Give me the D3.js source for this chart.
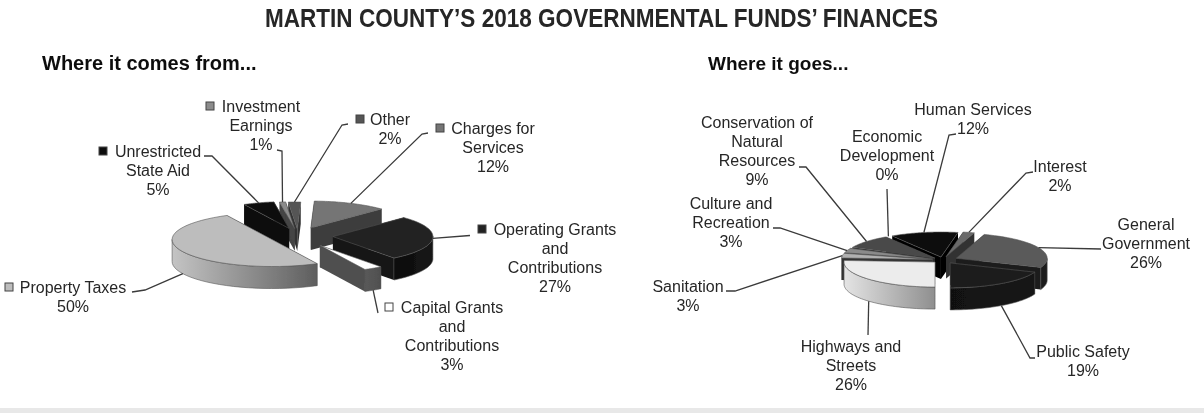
<!DOCTYPE html>
<head>
  <meta charset="UTF-8" />
  <title>Martin County Finances</title>
  <script src="https://cdn.jsdelivr.net/npm/d3@7"></script>
  <style>
    body { margin: 0; background: #fff; font-family: 'Liberation Sans', Arial, sans-serif; overflow: hidden; }
    svg text { fill: #262626; }
  </style>
</head>
<body>
  <div id="chart"></div>
<script>
  // Values
  const sourceNames = ['Charges for Services', 'Operating Grants and Contributions', 'Capital Grants and Contributions', 'Property Taxes', 'Unrestricted State Aid', 'Investment Earnings', 'Other']
  const sourceValues = [12, 27, 3, 50, 5, 1, 2]
  const useNames = ['General Government', 'Public Safety', 'Highways and Streets', 'Sanitation', 'Culture and Recreation', 'Conservation of Natural Resources', 'Economic Development', 'Human Services', 'Interest']
  const useValues = [26, 19, 26, 3, 3, 9, 0, 12, 2]

  const width = 1204
  const height = 413

  // Slice looks: [top, wall near end, wall far end, how far it is pulled out]
  const sourceLooks = [
    ['#757575', '#3c3c3c', '#3c3c3c', 0.32],
    ['#222222', '#0c0c0c', '#161616', 0.35],
    ['#ffffff', '#5a5a5a', '#4f4f4f', 0.41],
    ['#bdbdbd', '#c4c4c4', '#5e5e5e', 0.29],
    ['#111111', '#0a0a0a', '#0a0a0a', 0.29],
    ['#8c8c8c', '#444444', '#444444', 0.27],
    ['#555555', '#333333', '#333333', 0.26]
  ]
  const useLooks = [
    ['#5a5a5a', '#2a2a2a', '#1c1c1c', 0.16],
    ['#1e1e1e', '#111111', '#161616', 0.14],
    ['#ececec', '#e4e4e4', '#8f8f8f', 0.12],
    ['#b0b0b0', '#333333', '#333333', 0.12],
    ['#8a8a8a', '#444444', '#444444', 0.12],
    ['#484848', '#2a2a2a', '#2a2a2a', 0.12],
    ['#777777', '#333333', '#333333', 0.12],
    ['#0b0b0b', '#050505', '#050505', 0.12],
    ['#6a6a6a', '#333333', '#333333', 0.14]
  ]

  // Label layout: centre x, first baseline, optional swatch, bends of the leader line
  const sourceLabels = [
    { lines: ['Charges for', 'Services', '12%'], x: 493, y: 134, swatch: 436, fill: '#757575', elbow: [[422, 134], [428, 133]] },
    { lines: ['Operating Grants', 'and', 'Contributions', '27%'], x: 555, y: 235, swatch: 478, fill: '#222222', elbow: [[470, 235.5]] },
    { lines: ['Capital Grants', 'and', 'Contributions', '3%'], x: 452, y: 313, swatch: 385, fill: '#ffffff', elbow: [[378, 313]] },
    { lines: ['Property Taxes', '50%'], x: 73, y: 293, swatch: 5, fill: '#bdbdbd', elbow: [[145, 290], [132, 292]] },
    { lines: ['Unrestricted', 'State Aid', '5%'], x: 158, y: 157, swatch: 99, fill: '#111111', elbow: [[212, 156], [204, 156]] },
    { lines: ['Investment', 'Earnings', '1%'], x: 261, y: 112, swatch: 206, fill: '#8c8c8c', elbow: [[282, 151], [277, 150]] },
    { lines: ['Other', '2%'], x: 390, y: 125, swatch: 356, fill: '#555555', elbow: [[342, 125], [348, 124]] }
  ]
  const useLabels = [
    { lines: ['General', 'Government', '26%'], x: 1146, y: 230, elbow: [[1101, 249]] },
    { lines: ['Public Safety', '19%'], x: 1083, y: 357, elbow: [[1030, 358], [1035, 358]] },
    { lines: ['Highways and', 'Streets', '26%'], x: 851, y: 352, elbow: [[868, 335]] },
    { lines: ['Sanitation', '3%'], x: 688, y: 292, elbow: [[735, 291], [726, 291]] },
    { lines: ['Culture and', 'Recreation', '3%'], x: 731, y: 209, elbow: [[780, 228], [773, 228]] },
    { lines: ['Conservation of', 'Natural', 'Resources', '9%'], x: 757, y: 128, elbow: [[806, 167], [799, 167]] },
    { lines: ['Economic', 'Development', '0%'], x: 887, y: 142, elbow: [[887, 189]] },
    { lines: ['Human Services', '12%'], x: 973, y: 115, elbow: [[949, 135], [956, 134]] },
    { lines: ['Interest', '2%'], x: 1060, y: 172, elbow: [[1026, 173], [1033, 172]] }
  ]

  const svg = d3.select('#chart').append('svg').attr('width', width).attr('height', height)
  const defs = svg.append('defs')

  // The reference is a soft scan, so the drawing is blurred a touch
  defs.append('filter').attr('id', 'soft').append('feGaussianBlur').attr('stdDeviation', 0.5)
  const page = svg.append('g').attr('filter', 'url(#soft)')

  page.append('rect').attr('y', 408).attr('width', width).attr('height', 5).attr('fill', '#e8e8e8')

  page.append('text')
    .attr('x', 265).attr('y', 27)
    .attr('font-family', "'Liberation Sans Narrow', 'Liberation Sans', sans-serif")
    .attr('font-size', 25).attr('font-weight', 'bold')
    .attr('textLength', 673).attr('lengthAdjust', 'spacingAndGlyphs')
    .text('MARTIN COUNTY\u2019S 2018 GOVERNMENTAL FUNDS\u2019 FINANCES')

  page.append('text').attr('x', 42).attr('y', 70)
    .attr('font-size', 20).attr('font-weight', 'bold').style('fill', '#111').text('Where it comes from...')
  page.append('text').attr('x', 708).attr('y', 70)
    .attr('font-size', 19).attr('font-weight', 'bold').style('fill', '#111').text('Where it goes...')

  // Draw one exploded 3D pie
  function drawPie(id, values, looks, labels, opts) {
    const { cx, cy, rx, ry, depth, start } = opts
    const arcs = d3.pie().sort(null)
      .startAngle(start).endAngle(start + 2 * Math.PI)(values)

    const g = page.append('g')
    const slices = arcs.map((a, i) => {
      const mid = (a.startAngle + a.endAngle) / 2
      const ox = cx + rx * looks[i][3] * Math.sin(mid)
      const oy = cy - ry * looks[i][3] * Math.cos(mid)
      return { a, i, mid, ox, oy }
    })

    const rimPoint = (s, t) => [s.ox + rx * Math.sin(t), s.oy - ry * Math.cos(t)]
    const line = d3.line()

    // back slices first
    slices.slice().sort((p, q) => Math.cos(q.mid) - Math.cos(p.mid)).forEach((s) => {
      if (s.a.value === 0) return
      const look = looks[s.i]
      const ts = d3.range(0, 41).map((k) => s.a.startAngle + (s.a.endAngle - s.a.startAngle) * k / 40)
      const rim = ts.map((t) => rimPoint(s, t))
      const apex = [s.ox, s.oy]

      const gradId = `${id}-wall-${s.i}`
      const grad = defs.append('linearGradient').attr('id', gradId)
        .attr('gradientUnits', 'userSpaceOnUse')
        .attr('x1', d3.min(rim, (d) => d[0])).attr('x2', d3.max(rim, (d) => d[0]))
        .attr('y1', 0).attr('y2', 0)
      grad.append('stop').attr('offset', 0).attr('stop-color', look[1])
      grad.append('stop').attr('offset', 1).attr('stop-color', look[2])

      const drop = (p) => [p[0], p[1] + depth]

      // two cut faces
      ;[rim[0], rim[rim.length - 1]].forEach((p) => {
        g.append('path')
          .attr('d', line([apex, p, drop(p), drop(apex)]) + 'Z')
          .attr('fill', look[2])
      })

      // outer wall, only the part that faces the viewer
      const front = rim.filter((p, k) => Math.cos(ts[k]) <= 0.02)
      if (front.length > 1) {
        g.append('path')
          .attr('d', line(front.concat(front.slice().reverse().map(drop))) + 'Z')
          .attr('fill', `url(#${gradId})`)
          .attr('stroke', '#555').attr('stroke-width', 0.6)
      }

      // top
      g.append('path')
        .attr('d', line([apex].concat(rim)) + 'Z')
        .attr('fill', look[0])
        .attr('stroke', '#555').attr('stroke-width', 0.6)
    })

    // leader lines and labels
    const lead = page.append('g')
    slices.forEach((s) => {
      const lab = labels[s.i]
      const p = rimPoint(s, s.mid)
      const anchor = Math.cos(s.mid) < -0.3 ? [p[0], p[1] + depth] : p
      lead.append('path')
        .attr('d', line([anchor].concat(lab.elbow)))
        .attr('fill', 'none').attr('stroke', '#3a3a3a').attr('stroke-width', 1.3)

      const t = lead.append('text')
        .attr('text-anchor', 'middle').attr('font-size', 16)
      lab.lines.forEach((txt, k) => {
        t.append('tspan').attr('x', lab.x).attr('y', lab.y + k * 19).text(txt)
      })
      if (lab.swatch !== undefined) {
        lead.append('rect')
          .attr('x', lab.swatch).attr('y', lab.y - 10)
          .attr('width', 8).attr('height', 8)
          .attr('fill', lab.fill).attr('stroke', '#444').attr('stroke-width', 1)
      }
    })
  }

  const deg = Math.PI / 180
  drawPie('src', sourceValues, sourceLooks, sourceLabels, { cx: 298, cy: 236, rx: 100, ry: 27, depth: 22, start: 2 * deg })
  drawPie('use', useValues, useLooks, useLabels, { cx: 943, cy: 260, rx: 91, ry: 25, depth: 22, start: 18 * deg })
</script>
</body>
